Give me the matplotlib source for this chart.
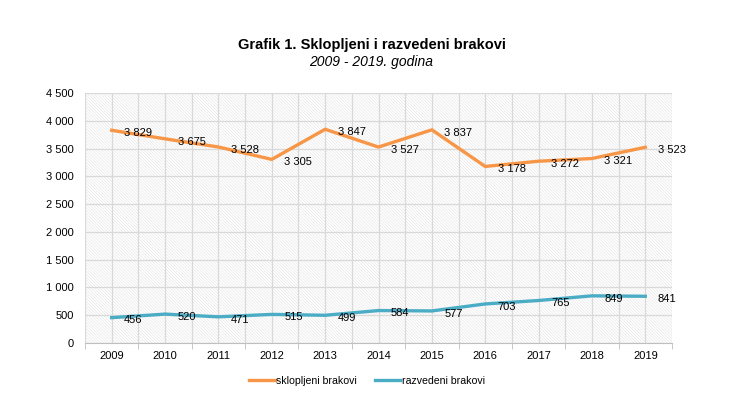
import matplotlib
matplotlib.use("Agg")
import matplotlib.pyplot as plt
from matplotlib.patches import Rectangle
from matplotlib.ticker import FuncFormatter

years = [2009, 2010, 2011, 2012, 2013, 2014, 2015, 2016, 2017, 2018, 2019]
sklopljeni = [3829, 3675, 3528, 3305, 3847, 3527, 3837, 3178, 3272, 3321, 3523]
razvedeni = [456, 520, 471, 515, 499, 584, 577, 703, 765, 849, 841]

ORANGE = "#F79646"
BLUE = "#4BACC6"
GRID = "#D9D9D9"

plt.rcParams['font.family'] = ['Liberation Sans', 'DejaVu Sans']
plt.rcParams['hatch.linewidth'] = 0.4
plt.rcParams['hatch.color'] = "#E2E2E2"


def fmt(v):
    return f"{int(v):,}".replace(",", " ")


fig = plt.figure(figsize=(7.43, 3.97), dpi=100)
ax = fig.add_axes([85 / 743, 1 - 343 / 397, 587 / 743, 250 / 397])

x = list(range(len(years)))
ax.set_xlim(-0.5, len(years) - 0.5)
ax.set_ylim(0, 4500)

# hatched plot background (Excel pattern fill)
ax.add_patch(Rectangle((0, 0), 1, 1, transform=ax.transAxes, facecolor="white",
                       edgecolor="#E2E2E2", hatch="\\" * 11, linewidth=0, zorder=0))

for v in range(0, 4501, 500):
    ax.axhline(v, color=GRID, linewidth=0.9, zorder=1)
for i in range(2 * len(years) + 1):
    ax.axvline(-0.5 + i * 0.5, color=GRID, linewidth=0.9, zorder=1)

ax.plot(x, sklopljeni, color=ORANGE, linewidth=2.4, label="sklopljeni brakovi", zorder=3,
        solid_joinstyle="round")
ax.plot(x, razvedeni, color=BLUE, linewidth=2.4, label="razvedeni brakovi", zorder=3,
        solid_joinstyle="round")

for xi, v in zip(x, sklopljeni):
    ax.annotate(fmt(v), (xi, v), xytext=(9, -2), textcoords="offset points",
                ha="left", va="center", fontsize=8, zorder=4)
for xi, v in zip(x, razvedeni):
    ax.annotate(fmt(v), (xi, v), xytext=(9, -2), textcoords="offset points",
                ha="left", va="center", fontsize=8, zorder=4)

ax.set_yticks(range(0, 4501, 500))
ax.yaxis.set_major_formatter(FuncFormatter(lambda v, p: fmt(v)))
ax.set_xticks(x)
ax.set_xticklabels([str(y) for y in years])
ax.set_xticks([i - 0.5 for i in range(len(years) + 1)], minor=True)
ax.tick_params(axis="x", which="major", length=0, labelsize=8, pad=6)
ax.tick_params(axis="x", which="minor", length=4, color="#BFBFBF")
ax.tick_params(axis="y", length=0, labelsize=8, pad=8)

for s in ["top", "right", "left"]:
    ax.spines[s].set_visible(False)
ax.spines["bottom"].set_color("#BFBFBF")

fig.text(0.5, 1 - 45 / 397, "Grafik 1. Sklopljeni i razvedeni brakovi", ha="center",
         va="center", fontsize=10.5, fontweight="bold")
fig.text(0.5, 1 - 62 / 397, "2009 - 2019. godina", ha="center", va="center",
         fontsize=10, style="italic")

fig.legend(loc="center", bbox_to_anchor=(367 / 743, 1 - 381 / 397), ncol=2, frameon=False,
           fontsize=7.6, handlelength=2.4, handletextpad=0.15, columnspacing=1.7)

fig.savefig("out.png", dpi=100)
